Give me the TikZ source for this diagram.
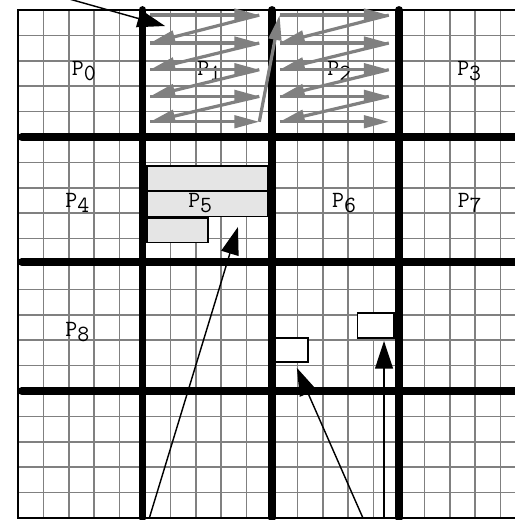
\documentclass[tikz,border=0pt]{standalone}
\usepackage{fontspec}
\usetikzlibrary{arrows.meta}
\newcommand{\pid}[1]{\texttt{P\raisebox{-2.8pt}{#1}}}

\begin{document}
\begin{tikzpicture}[x=0.5cm,y=0.5cm,
  fine/.style={draw=black!50,line width=0.9pt},
  wall/.style={line width=4.4pt,line cap=round},
  lab/.style={anchor=base west,inner sep=0pt,font=\fontsize{13}{15}\selectfont\ttfamily},
  slab/.style={draw,line width=1pt,fill=black!10,inner sep=0pt,outer sep=0pt,anchor=south west},
  hole/.style={slab,fill=white},
  scan/.style={-{Triangle[length=14pt,width=7pt]},draw=black!50,line width=1.8pt},
  ptr/.style={-{Triangle[length=15.5pt,width=10pt]},line width=0.8pt}]
\useasboundingbox (-0.709,-0.079) rectangle (19.567,20.394);
\clip (-0.709,-0.079) rectangle (19.567,20.394);
\foreach \i in {1,...,20} \draw[fine] (\i,0) -- (\i,20);
\foreach \j in {1,...,19} \draw[fine] (0,\j) -- (21,\j);
\draw[line width=1.3pt] (21,0) -- (0,0) -- (0,20) -- (21,20);
\foreach \x in {4.9,10,15} \draw[wall] (\x,0) -- (\x,20);
\foreach \y in {5,10.08,15} \draw[wall] (0.15,\y) -- (21,\y);
\node[slab,minimum width=2.38cm,minimum height=0.5cm] (s1) at (5.08,12.87) {};
\node[slab,minimum width=2.38cm,minimum height=0.5cm] (s2) at (5.08,11.87) {};
\node[slab,minimum width=1.2cm,minimum height=0.475cm] (s3) at (5.08,10.85) {};
\node[hole,minimum width=0.65cm,minimum height=0.475cm] (ha) at (10.12,6.15) {};
\node[hole,minimum width=0.715cm,minimum height=0.485cm] (hb) at (13.37,7.10) {};
\foreach \n/\x/\y in {0/2.11/17.44,1/7.05/17.44,2/12.17/17.44,3/17.28/17.44,
  4/1.85/12.24,5/6.69/12.24,6/12.35/12.24,7/17.3/12.24,8/1.85/7.13}
  \node[lab] (p\n) at (\x,\y) {\pid{\n}};
\foreach \b/\dx in {1/0,2/5.1}{
  \foreach \r/\y in {0/19.8,1/18.7,2/17.65,3/16.6,4/15.6}{
    \coordinate (a\b\r) at (5.2+\dx,\y);
    \coordinate (z\b\r) at (9.5+\dx,\y);
  }
}
\foreach \b in {1,2}{
  \foreach \r in {0,...,4} \draw[scan] (a\b\r) -- (z\b\r);
  \foreach \r [evaluate=\r as \s using int(\r+1)] in {0,...,3} \draw[scan] (z\b\r) -- (a\b\s);
}
\draw[scan] (z14) -- (a20);
\coordinate (far) at (0.36,20.9);
\coordinate (corner) at (5.79,19.37);
\coordinate (src1) at (5.17,0);
\coordinate (dst1) at (8.66,11.46);
\coordinate (src2) at (13.58,0);
\coordinate (dst2) at (10.98,5.91);
\coordinate (src3) at (14.41,0);
\coordinate (dst3) at (14.41,6.97);
\draw[ptr] (far) -- (corner);
\draw[ptr] (src1) -- (dst1);
\draw[ptr] (src2) -- (dst2);
\draw[ptr] (src3) -- (dst3);
\end{tikzpicture}
\end{document}
